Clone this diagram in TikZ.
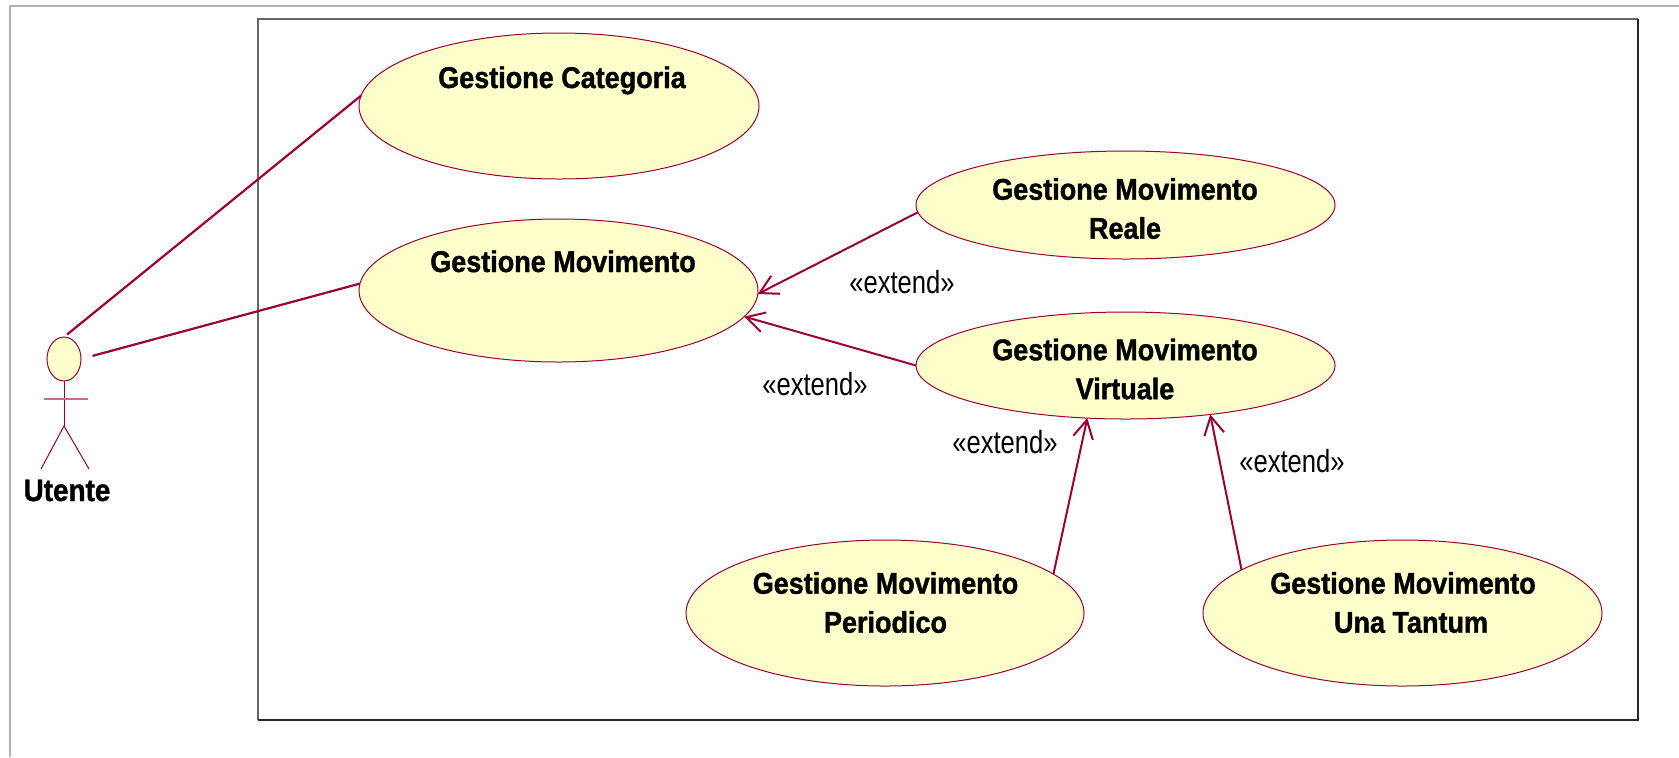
\documentclass[tikz,border=0pt]{standalone}
\usepackage{fontspec}
\usetikzlibrary{arrows.meta,shapes.geometric,calc}
\newfontfamily\ucfont[FakeStretch=0.9,BoldFeatures={FakeBold=1.2}]{Liberation Sans}
\newfontfamily\extfont[FakeStretch=0.8]{Liberation Sans}
\definecolor{rosered}{RGB}{153,0,51}
\definecolor{rosefill}{RGB}{255,255,204}
\definecolor{armcol}{RGB}{200,110,140}
\begin{document}
\begin{tikzpicture}[x=0.5pt,y=-0.5pt,
  uc/.style={ellipse,draw=rosered,fill=rosefill,line width=0.5pt,inner sep=0pt,outer sep=0pt},
  uctext/.style={font=\ucfont\bfseries\fontsize{15}{19.5}\selectfont,align=center,inner sep=0pt},
  exttext/.style={font=\extfont\fontsize{16}{19}\selectfont,inner sep=0pt,anchor=base},
  assoc/.style={draw=rosered,line width=1.1pt},
  extend/.style={draw=rosered,line width=1pt,-{Straight Barb[length=9pt,width=10pt]}},
  actorline/.style={draw=rosered,line width=0.5pt},
]
\useasboundingbox (0,0) rectangle (1679,757);
\fill[white] (0,0) rectangle (1679,757);
% frames
\draw[gray!60,line width=0.6pt] (10,757) -- (10,6) -- (1679,6);
\draw[black!60,line width=0.6pt] (258,720) -- (258,19) -- (1638,19);
\draw[black!85,line width=1pt] (258,720) -- (1638,720) -- (1638,19);
% use cases
\node[uc,minimum width=200pt,minimum height=73pt] (cat) at (559,106) {};
\node[uc,minimum width=199.5pt,minimum height=71.5pt] (mov) at (558.5,290.5) {};
\node[uc,minimum width=209.5pt,minimum height=54pt] (reale) at (1125.5,205) {};
\node[uc,minimum width=209.5pt,minimum height=53.5pt] (virt) at (1125.5,365.5) {};
\node[uc,minimum width=199pt,minimum height=73pt] (per) at (885,613) {};
\node[uc,minimum width=199.5pt,minimum height=73pt] (ut) at (1402.5,613) {};
% texts
\node[uctext,anchor=base] (catT) at (562,88) {Gestione Categoria};
\node[uctext,anchor=base] (movT) at (563,272) {Gestione Movimento};
\node[uctext] (realeT) at (1125,208.5) {Gestione Movimento\\Reale};
\node[uctext] (virtT) at (1125,369) {Gestione Movimento\\Virtuale};
\node[uctext] (perT) at (885.5,602.5) {Gestione Movimento\\Periodico};
\node[uctext] (utT) at (1403,602.5) {Gestione Movimento\\\hspace*{8pt}Una Tantum};
% actor
\node[uc,minimum width=17pt,minimum height=22pt] (head) at (64,359) {};
\coordinate (hip) at (64,426);
\coordinate (lfoot) at (41,469);
\coordinate (rfoot) at (89,469);
\coordinate (larm) at (44,399);
\coordinate (rarm) at (88,399);
\draw[actorline] (head.south) -- (hip);
\draw[actorline] (lfoot) -- (hip) -- (rfoot);
\draw[draw=armcol,line width=1pt] (larm) -- (rarm);
\node[font=\ucfont\bfseries\fontsize{15.5}{18}\selectfont,anchor=base,inner sep=0pt] (utente) at (67,501) {Utente};
% associations
\draw[assoc,shorten <=2pt] (head.north) -- (cat.177);
\draw[assoc,shorten <=6pt] (head.east) -- (mov.178);
% extends
\draw[extend] (reale.182) -- (mov.-1);
\draw[extend] (virt.west) -- (mov.-8.4);
\draw[extend] (per.13.9) -- (virt.234.1);
\draw[extend] (ut.165.7) -- (virt.-30.7);
\node[exttext] (e1) at (902,293) {«extend»};
\node[exttext] (e2) at (815,395) {«extend»};
\node[exttext] (e3) at (1005,453) {«extend»};
\node[exttext] (e4) at (1292,472) {«extend»};
\end{tikzpicture}
\end{document}
